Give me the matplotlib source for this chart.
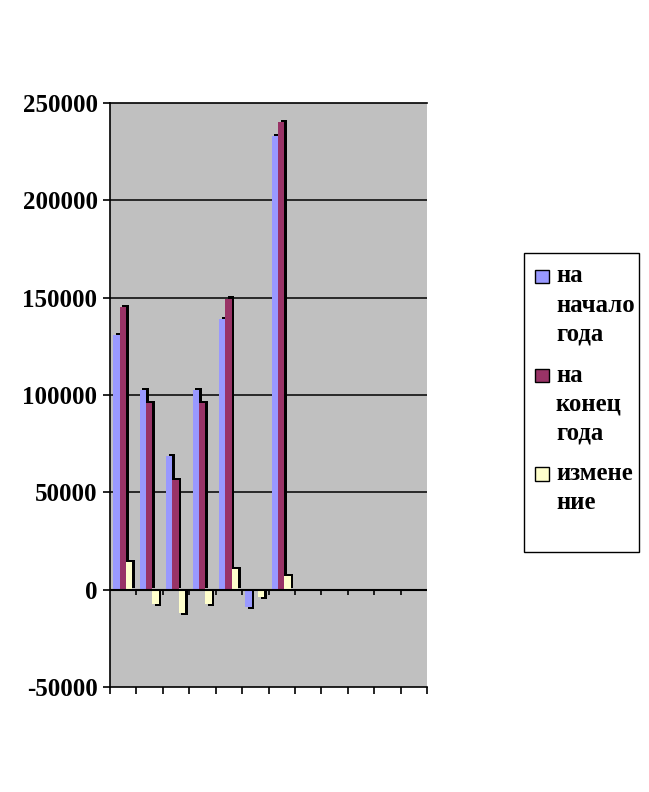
import matplotlib
matplotlib.use("Agg")
import matplotlib.pyplot as plt
from matplotlib.patches import Rectangle
import numpy as np

# Data (12 category slots, only first 7 filled)
categories = list(range(1, 13))
start_year = [131000, 102700, 68500, 102700, 139000, -8900, 233000]
end_year = [145000, 95900, 56500, 96000, 149500, 0, 240400]
change = [14000, -7300, -12000, -7300, 10600, -3800, 7200]
series_names = ["на\nначало\nгода", "на\nконец\nгода", "измене\nние"]
yticks = [-50000, 0, 50000, 100000, 150000, 200000, 250000]

colors = ["#9999FF", "#993366", "#FFFFCC"]

W, H = 649, 792
fig = plt.figure(figsize=(W / 100, H / 100), dpi=100)
fig.patch.set_facecolor("white")
ax = fig.add_axes([110 / W, 1 - 687 / H, 317 / W, 584 / H])
ax.set_facecolor("#C0C0C0")
ax.set_xlim(0, 12)
ax.set_ylim(-50000, 250000)

font = dict(family="Liberation Serif", weight="bold")

# gridlines
for y in [50000, 100000, 150000, 200000]:
    ax.axhline(y, color="black", lw=1.1, zorder=1)

w = 0.24
dx = 0.10
dy = 1100
series = [start_year, end_year, change]
for s, (vals, col) in enumerate(zip(series, colors)):
    x = np.arange(len(vals)) + 0.125 + w / 2 + s * w
    v = np.array(vals, dtype=float)
    pos = v > 0
    neg = v < 0
    # 3D depth (dark side)
    ax.bar(x[pos] + dx, v[pos], width=w, bottom=dy, color="black", zorder=2, linewidth=0)
    ax.bar(x[neg] + dx, v[neg] - dy * 0.8, width=w, bottom=0, color="black", zorder=2, linewidth=0)
    ax.bar(x, v, width=w, color=col, zorder=3, linewidth=0)

# zero axis line with tick marks
ax.axhline(0, color="black", lw=1.5, zorder=4)
ax.vlines(np.arange(1, 12), -2700, 0, color="black", lw=1.2, zorder=4)

ax.set_xticks(np.arange(0, 13))
ax.set_xticklabels([])
ax.tick_params(axis="x", direction="out", length=5, width=1.2, color="black")
ax.set_yticks(yticks)
ax.set_yticklabels([str(t) for t in yticks], fontsize=18, **font)
ax.tick_params(axis="y", direction="out", length=5, width=1.2, color="black", pad=4)

for side in ["left", "bottom", "top"]:
    ax.spines[side].set_color("black")
    ax.spines[side].set_linewidth(1.2)
ax.spines["right"].set_visible(False)

# Legend (manual)
fig.patches.append(Rectangle((524 / W, 1 - 552 / H), 115 / W, 299 / H,
                             transform=fig.transFigure, facecolor="white",
                             edgecolor="black", lw=1.0))
entry_tops = [276, 375, 474]
for name, col, ty in zip(series_names, colors, entry_tops):
    fig.patches.append(Rectangle((535 / W, 1 - (ty + 7.5) / H), 14 / W, 14 / H,
                                 transform=fig.transFigure, facecolor=col,
                                 edgecolor="black", lw=1.0))
    for k, line in enumerate(name.split("\n")):
        fig.text(556 / W, 1 - (ty + 29 * k) / H, line, ha="left", va="center",
                 fontsize=17.8, **font)

fig.savefig("out.png", dpi=100)
